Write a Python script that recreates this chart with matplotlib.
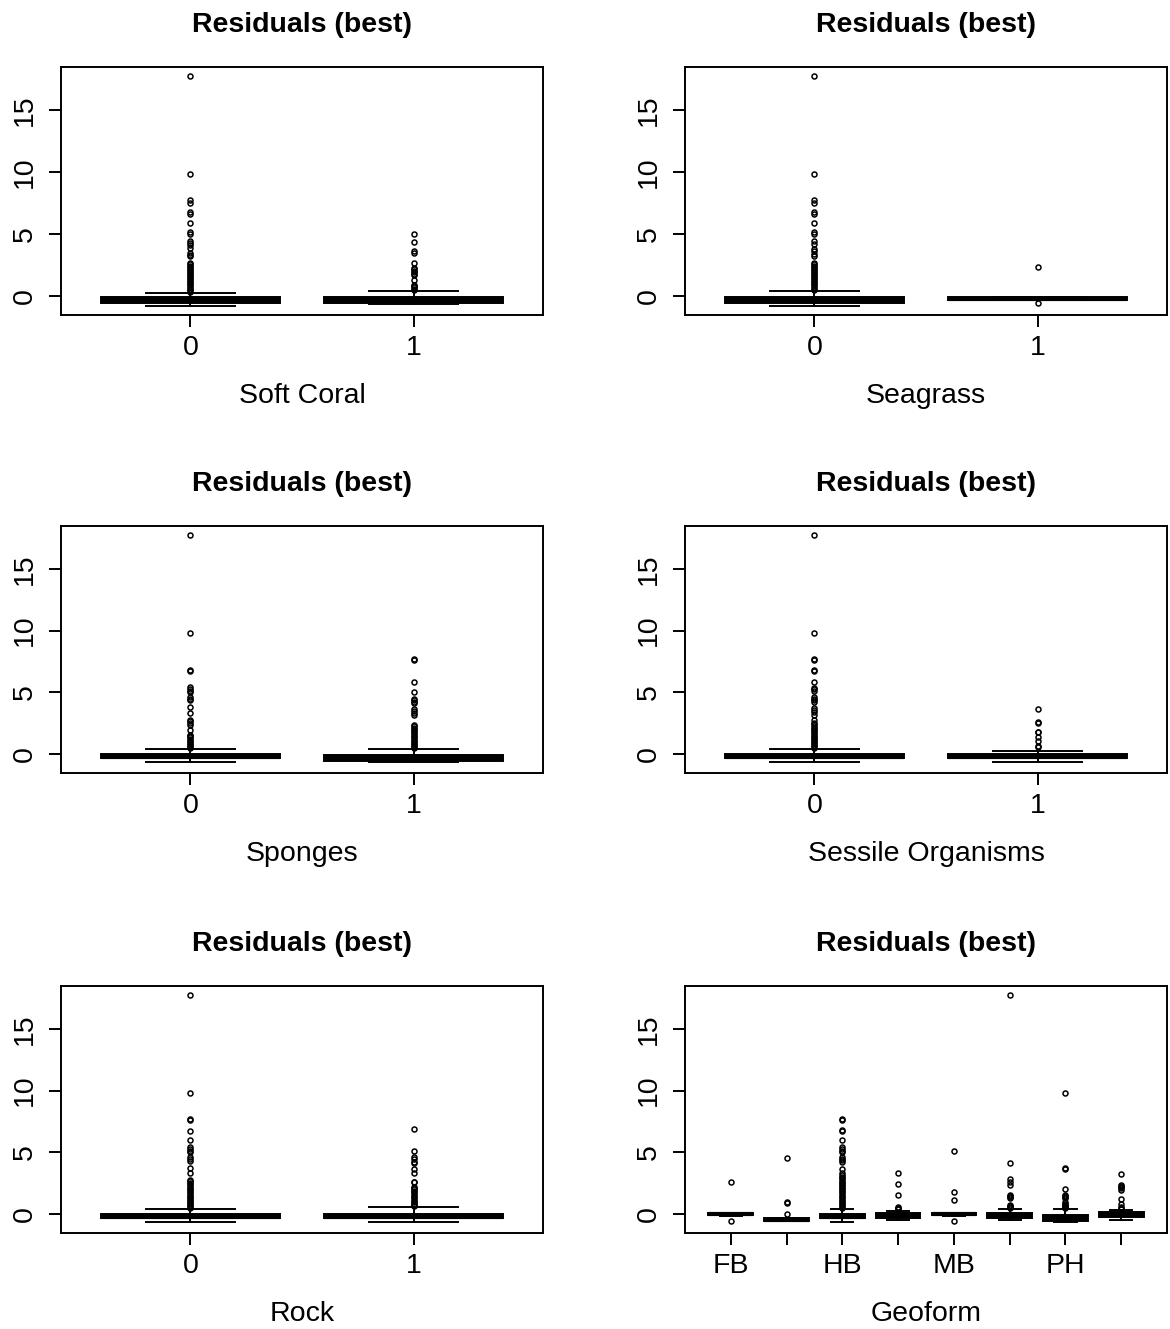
import matplotlib
matplotlib.use("Agg")
import matplotlib.pyplot as plt

plt.rcParams["font.family"] = ["Liberation Sans", "DejaVu Sans"]

# Data
binary_groups = ["0", "1"]
geoform_groups = ["FB", "", "HB", "", "MB", "", "PH", ""]

# box stats per group: [whislo, q1, med, q3, whishi]
soft_coral_box = [[-0.8, -0.55, -0.3, -0.05, 0.24],
                  [-0.67, -0.55, -0.3, -0.05, 0.43]]
soft_coral_out = [[17.77, 9.81, 7.74, 7.53, 6.8, 6.6, 5.86, 5.19, 5.0, 4.45, 4.3, 4.15,
                   3.84, 3.45, 3.3, 3.2, 2.7, 2.6, 2.45, 2.35, 2.2, 2.1, 1.95, 1.85, 1.7,
                   1.6, 1.45, 1.35, 1.2, 1.1, 0.95, 0.85, 0.7, 0.6, 0.45, 0.35],
                  [5.0, 4.38, 3.66, 3.44, 2.63, 2.3, 2.2, 2.05, 1.95, 1.8, 1.7, 1.29,
                   0.9, 0.8, 0.7, 0.6, 0.5]]

seagrass_box = [[-0.8, -0.55, -0.3, -0.05, 0.43],
                [-0.35, -0.3, -0.2, -0.1, -0.05]]
seagrass_out = [[17.77, 9.81, 7.74, 7.53, 6.8, 6.6, 5.86, 5.19, 5.0, 4.4, 4.2, 3.8, 3.6,
                 3.4, 3.2, 2.7, 2.6, 2.45, 2.35, 2.2, 2.1, 1.95, 1.85, 1.7, 1.6, 1.45,
                 1.35, 1.2, 1.1, 0.95, 0.85, 0.7, 0.6, 0.5],
                [2.31, -0.54]]

sponges_box = [[-0.65, -0.35, -0.2, -0.03, 0.43],
               [-0.67, -0.55, -0.3, -0.05, 0.43]]
sponges_out = [[17.77, 9.81, 6.8, 6.75, 5.46, 5.3, 5.15, 5.05, 4.65, 4.5, 4.35, 3.79,
                3.3, 2.77, 2.65, 2.5, 2.37, 1.96, 1.56, 1.45, 1.35, 1.2, 1.1, 0.95,
                0.85, 0.7, 0.6, 0.48],
               [7.69, 7.64, 5.86, 5.0, 4.5, 4.35, 4.2, 4.1, 3.66, 3.5, 3.35, 3.17,
                2.37, 2.25, 2.1, 2.0, 1.85, 1.75, 1.6, 1.5, 1.35, 1.25, 1.1, 1.0,
                0.85, 0.75, 0.6, 0.48]]

sessile_box = [[-0.65, -0.35, -0.2, -0.03, 0.43],
               [-0.65, -0.35, -0.2, -0.03, 0.24]]
sessile_out = [[17.77, 9.81, 7.69, 7.64, 6.8, 6.75, 5.86, 5.38, 5.25, 5.1, 4.65, 4.5,
                4.35, 4.2, 3.7, 3.55, 3.4, 3.2, 2.77, 2.5, 2.4, 2.25, 2.15, 2.0, 1.9,
                1.75, 1.65, 1.5, 1.4, 1.25, 1.15, 1.0, 0.9, 0.75, 0.65, 0.48],
               [3.63, 2.58, 2.55, 1.83, 1.8, 1.42, 1.08, 0.65, 0.6]]

rock_box = [[-0.65, -0.35, -0.2, -0.03, 0.43],
            [-0.65, -0.35, -0.2, -0.03, 0.56]]
rock_out = [[17.77, 9.81, 7.69, 7.64, 6.72, 6.0, 5.46, 5.3, 5.15, 5.0, 4.65, 4.45, 4.3,
             3.76, 3.3, 2.77, 2.65, 2.5, 2.4, 2.25, 2.15, 2.0, 1.9, 1.75, 1.65, 1.5,
             1.4, 1.25, 1.15, 1.0, 0.9, 0.75, 0.65, 0.48],
            [6.88, 5.13, 4.65, 4.45, 4.25, 4.1, 3.63, 3.3, 2.63, 2.6, 2.23, 2.1, 2.0,
             1.85, 1.75, 1.6, 1.5, 1.35, 1.25, 1.1, 1.0, 0.85, 0.75, 0.62]]

geoform_box = [[-0.12, -0.1, 0.0, 0.05, 0.08],
               [-0.58, -0.55, -0.45, -0.35, -0.32],
               [-0.65, -0.35, -0.2, -0.03, 0.43],
               [-0.46, -0.35, -0.1, 0.1, 0.25],
               [-0.12, -0.1, 0.0, 0.05, 0.08],
               [-0.46, -0.35, -0.1, 0.1, 0.43],
               [-0.65, -0.55, -0.35, -0.05, 0.43],
               [-0.46, -0.2, 0.0, 0.2, 0.3]]
geoform_out = [[2.63, -0.59],
               [4.52, 0.97, 0.93, 0.0],
               [7.69, 7.64, 6.8, 6.75, 6.0, 5.46, 5.3, 5.15, 5.05, 4.65, 4.5, 4.35,
                4.25, 3.66, 3.3, 3.15, 3.0, 2.9, 2.75, 2.6, 2.5, 2.35, 2.25, 2.1, 2.0,
                1.85, 1.75, 1.6, 1.5, 1.35, 1.25, 1.1, 1.0, 0.85, 0.75, 0.6, 0.48],
               [3.36, 2.45, 1.56, 0.6, 0.5, 0.45, 0.4],
               [5.1, 1.77, 1.16, -0.54],
               [17.77, 4.11, 2.82, 2.6, 2.37, 1.56, 1.45, 1.35, 1.29, 0.75, 0.65,
                0.55, 0.48],
               [9.81, 3.71, 3.66, 2.04, 1.56, 1.45, 1.35, 1.29, 0.97, 0.85, 0.75,
                0.65, 0.55, 0.48],
               [3.23, 2.37, 2.3, 2.2, 2.1, 1.96, 1.24, 0.81, 0.6, 0.5, 0.4]]

panels = [
    ("Soft Coral", binary_groups, soft_coral_box, soft_coral_out),
    ("Seagrass", binary_groups, seagrass_box, seagrass_out),
    ("Sponges", binary_groups, sponges_box, sponges_out),
    ("Sessile Organisms", binary_groups, sessile_box, sessile_out),
    ("Rock", binary_groups, rock_box, rock_out),
    ("Geoform", geoform_groups, geoform_box, geoform_out),
]

fig = plt.figure(figsize=(11.7, 13.29), dpi=100)

W, H = 1170, 1329
col_x = [61, 685]
row_y = [(67, 315), (526, 773), (986, 1233)]
ax_w = 482

lw = 1.4
for i, (xlab, groups, boxes, outs) in enumerate(panels):
    r, c = divmod(i, 2)
    top, bot = row_y[r]
    ax = fig.add_axes([col_x[c] / W, 1 - bot / H, ax_w / W, (bot - top) / H])

    stats = []
    for b, o in zip(boxes, outs):
        stats.append(dict(whislo=b[0], q1=b[1], med=b[2], q3=b[3], whishi=b[4],
                          fliers=o))
    n = len(groups)
    pos = list(range(1, n + 1))
    ax.bxp(stats, positions=pos, widths=0.8, capwidths=0.4, patch_artist=True,
           boxprops=dict(facecolor="black", edgecolor="black", linewidth=lw),
           medianprops=dict(color="black", linewidth=3),
           whiskerprops=dict(color="black", linewidth=lw),
           capprops=dict(color="black", linewidth=lw),
           flierprops=dict(marker="o", markerfacecolor="none", markeredgecolor="black",
                           markersize=3.6, markeredgewidth=1.1))

    ext = n * 0.04
    ax.set_xlim(0.5 - ext, n + 0.5 + ext)
    ax.set_ylim(-1.53, 18.47)
    ax.set_xticks(pos)
    ax.set_xticklabels(groups)
    ax.set_yticks([0, 5, 10, 15])
    ax.set_yticklabels(["0", "5", "10", "15"], rotation=90, va="center")

    for s in ax.spines.values():
        s.set_linewidth(lw)
    ax.tick_params(axis="both", direction="out", length=8.6, width=lw,
                   labelsize=20.5, colors="black")
    ax.tick_params(axis="x", pad=6)
    ax.tick_params(axis="y", pad=8)

    ax.set_title("Residuals (best)", fontsize=20.5, fontweight="bold", pad=25)
    ax.text(0.5, -88 / (bot - top), xlab, transform=ax.transAxes,
            ha="center", va="baseline", fontsize=20.5)

fig.savefig("out.png", dpi=100)
